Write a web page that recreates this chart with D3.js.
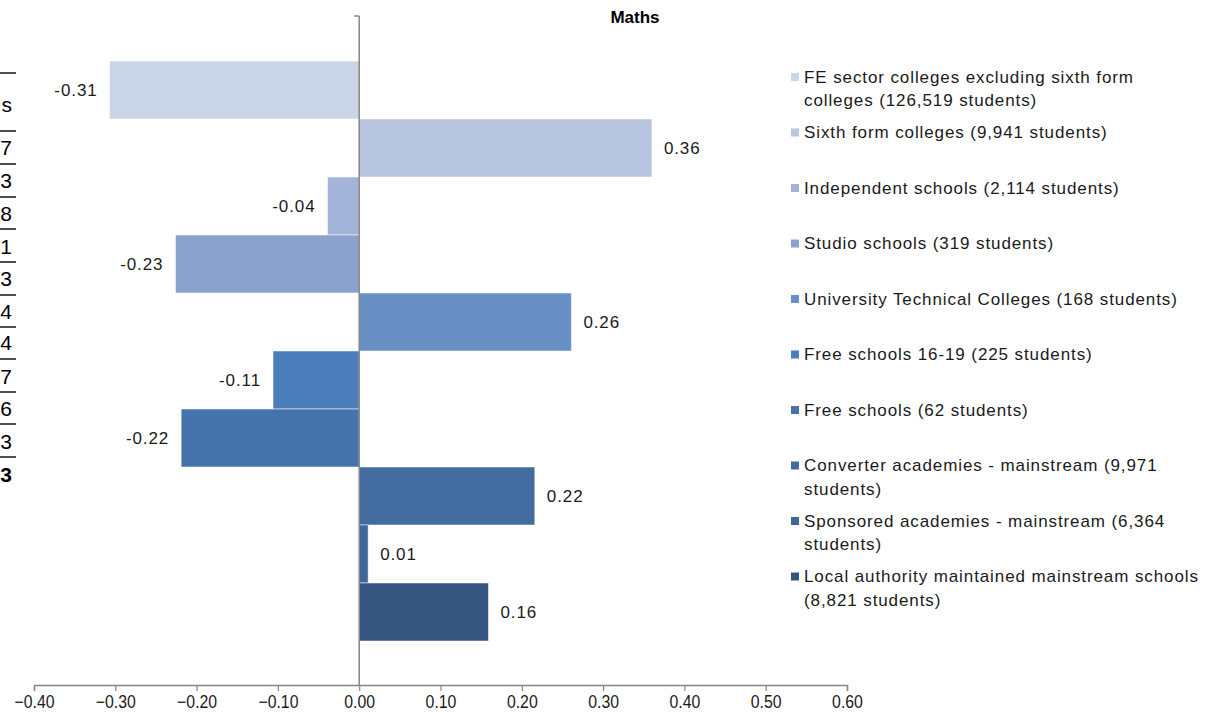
<!DOCTYPE html>
<html lang="en">
<head>
    <meta charset="UTF-8">
    <script src="https://d3js.org/d3.v7.min.js"></script>
    <title>Maths</title>
    <style>
        body {
            margin: 0;
            background: #fff;
            font-family: "Liberation Sans", Arial, sans-serif;
        }
    </style>
</head>
<body>
    <script>
        // series (one bar each), top to bottom
        const seriesNames = [
            "FE sector colleges excluding sixth form colleges (126,519 students)",
            "Sixth form colleges (9,941 students)",
            "Independent schools (2,114 students)",
            "Studio schools (319 students)",
            "University Technical Colleges (168 students)",
            "Free schools 16-19 (225 students)",
            "Free schools (62 students)",
            "Converter academies - mainstream (9,971 students)",
            "Sponsored academies - mainstream (6,364 students)",
            "Local authority maintained mainstream schools (8,821 students)"
        ];
        // legend text split as it wraps in the picture
        const legendLines = [
            ["FE sector colleges excluding sixth form", "colleges (126,519 students)"],
            ["Sixth form colleges (9,941 students)"],
            ["Independent schools (2,114 students)"],
            ["Studio schools (319 students)"],
            ["University Technical Colleges (168 students)"],
            ["Free schools 16-19 (225 students)"],
            ["Free schools (62 students)"],
            ["Converter academies - mainstream (9,971", "students)"],
            ["Sponsored academies - mainstream (6,364", "students)"],
            ["Local authority maintained mainstream schools", "(8,821 students)"]
        ];
        const values = [-0.307, 0.36, -0.039, -0.226, 0.261, -0.106, -0.219, 0.216, 0.011, 0.159];
        const colors = ["#cbd5e8", "#b7c5e0", "#a2b4d8", "#8aa3cd", "#6890c5", "#4a7db9", "#4673ab", "#426c9f", "#3e6697", "#35577f"];
        const xTicks = [-0.4, -0.3, -0.2, -0.1, 0, 0.1, 0.2, 0.3, 0.4, 0.5, 0.6];
        // last column of a table cut off at the left edge of the picture
        const tableCells = ["s", "7", "3", "8", "1", "3", "4", "4", "7", "6", "3", "3"];

        const width = 1216;
        const height = 718;

        const svg = d3.select("body").append("svg")
            .attr("width", width)
            .attr("height", height);

        const x = d3.scaleLinear().domain([-0.4, 0.6]).range([34, 847]);
        const y = d3.scaleBand().domain(seriesNames).range([61, 641]);
        const plotTop = 16, plotBottom = 685;

        // cut-off table on the left
        const rowY = [73, 131, 164, 197, 229, 262, 295, 327, 359, 392, 424, 457];
        const textY = [105, 148, 181, 214, 247, 279, 312, 343, 377, 409, 442, 475];
        const tbl = svg.append("g");
        tbl.selectAll("line")
            .data(rowY)
            .enter().append("line")
            .attr("x1", 0).attr("x2", 16)
            .attr("y1", d => d).attr("y2", d => d)
            .attr("stroke", "#000")
            .attr("stroke-width", 1.4);
        tbl.selectAll("text")
            .data(tableCells)
            .enter().append("text")
            .attr("x", 12)
            .attr("y", (d, i) => textY[i])
            .attr("dy", "0.35em")
            .attr("text-anchor", "end")
            .style("font-size", "21px")
            .style("font-weight", (d, i) => i === tableCells.length - 1 ? "bold" : "normal")
            .text(d => d);

        // title
        svg.append("text")
            .attr("x", 635).attr("y", 17)
            .attr("dy", "0.35em")
            .attr("text-anchor", "middle")
            .style("font-size", "17px")
            .style("font-weight", "bold")
            .text("Maths");

        // bars
        svg.append("g")
            .selectAll("rect")
            .data(values)
            .enter().append("rect")
            .attr("x", d => x(Math.min(0, d)))
            .attr("y", (d, i) => y(seriesNames[i]))
            .attr("width", d => Math.abs(x(d) - x(0)))
            .attr("height", y.bandwidth())
            .attr("fill", (d, i) => colors[i])
            .attr("stroke", "rgba(255,255,255,0.5)")
            .attr("stroke-width", 1);

        // value labels
        svg.append("g")
            .selectAll("text")
            .data(values)
            .enter().append("text")
            .attr("x", d => d < 0 ? x(d) - 12 : x(d) + 12)
            .attr("y", (d, i) => y(seriesNames[i]) + y.bandwidth() / 2)
            .attr("dy", "0.35em")
            .attr("text-anchor", d => d < 0 ? "end" : "start")
            .style("font-size", "17px")
            .style("letter-spacing", "0.9px")
            .style("fill", "#1a1a1a")
            .text(d => d.toFixed(2));

        // zero / category axis
        svg.append("line")
            .attr("x1", x(0)).attr("x2", x(0))
            .attr("y1", plotTop).attr("y2", plotBottom)
            .attr("stroke", "#868686").attr("stroke-width", 1.5);
        svg.append("line")
            .attr("x1", x(0) - 5).attr("x2", x(0))
            .attr("y1", plotTop).attr("y2", plotTop)
            .attr("stroke", "#868686").attr("stroke-width", 1.5);

        // value axis
        const xAxis = svg.append("g")
            .attr("transform", `translate(0,${plotBottom})`)
            .call(d3.axisBottom(x).tickValues(xTicks).tickFormat(d3.format(".2f")).tickSizeOuter(0).tickSize(6));
        xAxis.select(".domain").attr("stroke", "#868686").attr("stroke-width", 1.5);
        xAxis.selectAll(".tick line").attr("stroke", "#868686").attr("stroke-width", 1.2);
        xAxis.selectAll(".tick text")
            .attr("y", 10)
            .attr("transform", "scale(0.88,1)")
            .style("font-family", "'Liberation Sans', Arial, sans-serif")
            .style("font-size", "18px")
            .style("fill", "#1a1a1a");

        // legend
        const legend = svg.append("g")
            .selectAll("g")
            .data(legendLines)
            .enter().append("g")
            .attr("transform", (d, i) => `translate(791,${77 + i * 55.5})`);
        legend.append("rect")
            .attr("x", 0).attr("y", -4)
            .attr("width", 8).attr("height", 8)
            .attr("fill", (d, i) => colors[i]);
        legend.append("text")
            .attr("x", 13)
            .style("font-size", "17px")
            .style("letter-spacing", "0.9px")
            .style("fill", "#1a1a1a")
            .selectAll("tspan")
            .data(d => d)
            .enter().append("tspan")
            .attr("x", 13)
            .attr("y", (d, j) => j * 23.5)
            .attr("dy", "0.35em")
            .text(d => d);
    </script>
</body>
</html>
